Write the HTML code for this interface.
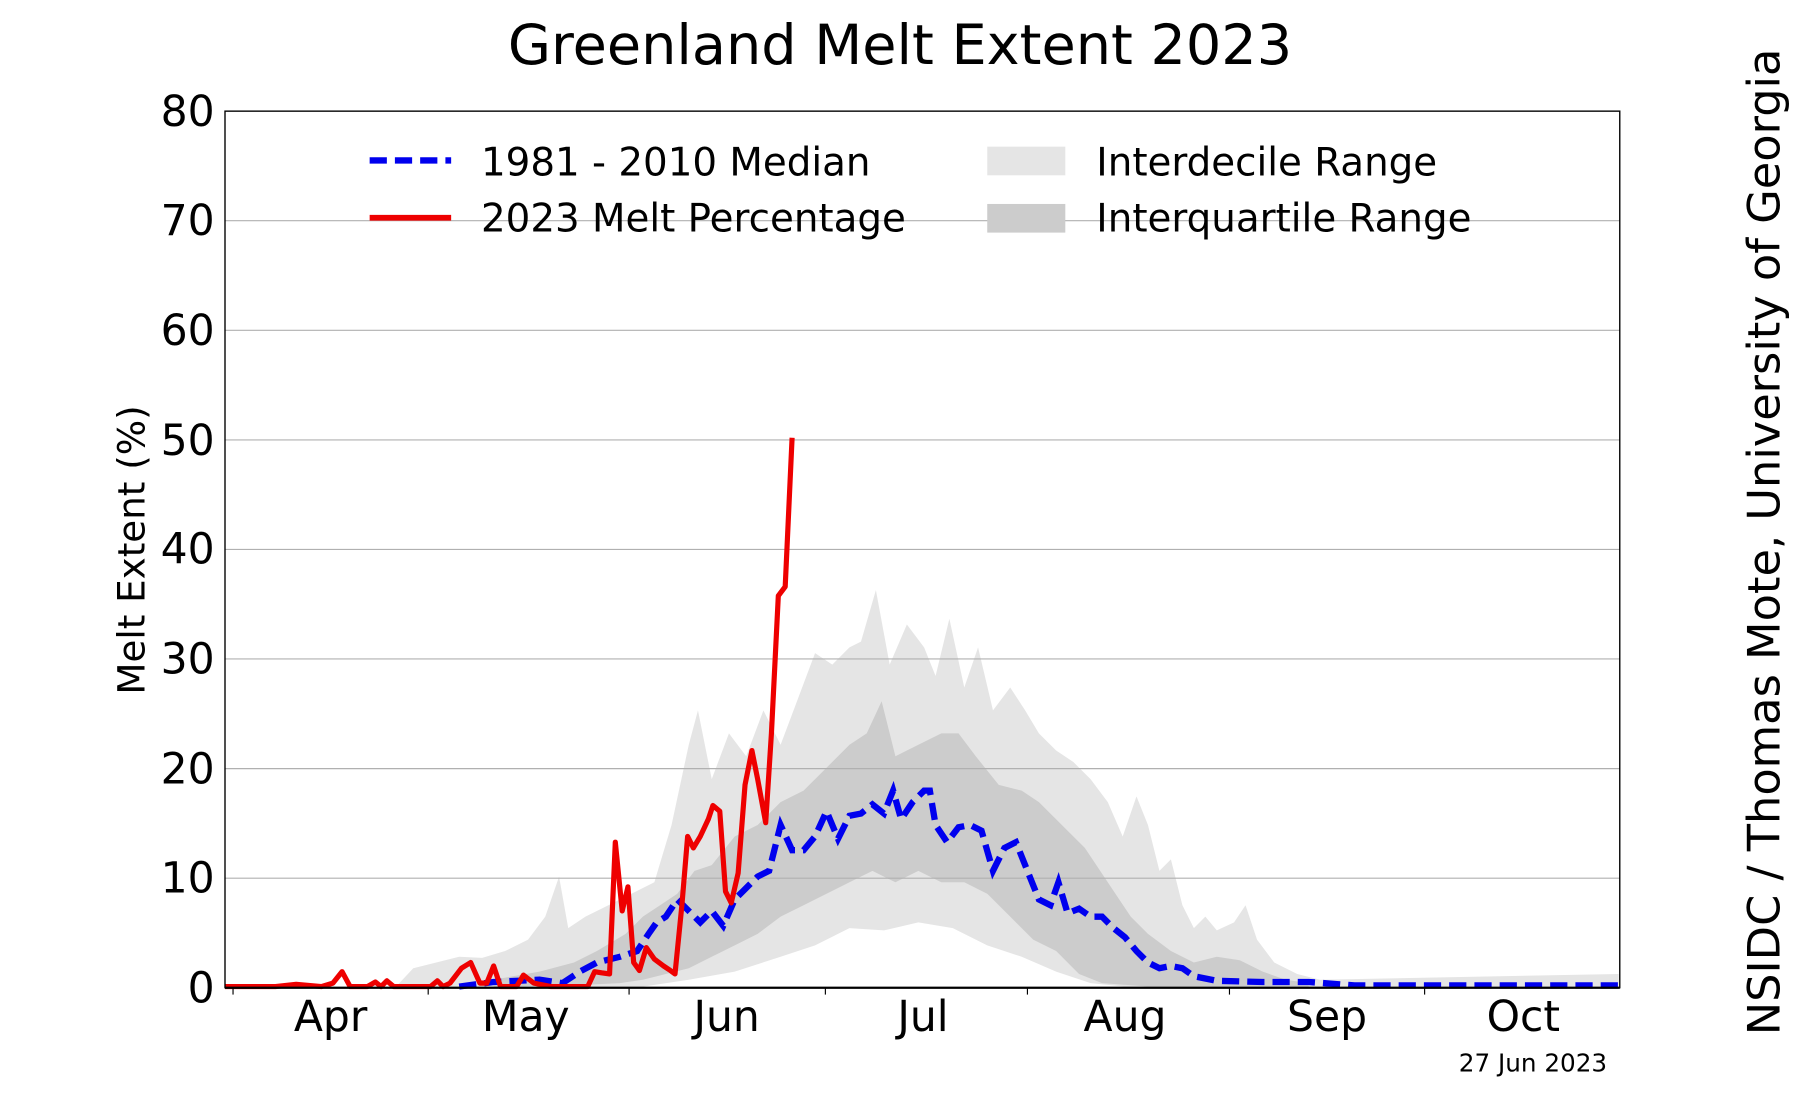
<!DOCTYPE html>
<html><head><meta charset="utf-8"><style>
html,body{margin:0;padding:0;background:#fff;}
svg{display:block;}
text{font-family:"DejaVu Sans","Liberation Sans",sans-serif;fill:#000;}
</style></head><body>
<svg width="1800" height="1100" viewBox="0 0 1568 960" preserveAspectRatio="none" xmlns="http://www.w3.org/2000/svg">
<rect width="1568" height="960" fill="#fff"/>
<text x="784" y="56" font-size="48.5" text-anchor="middle">Greenland Melt Extent 2023</text>
<polygon fill="#e5e5e5" points="345,861 360,845 380,840 400,835 420,836 440,830 460,820 475,800 487,765 495,810 510,800 530,790 550,780 570,770 585,720 600,650 608,620 620,680 635,640 650,660 665,620 680,650 695,610 710,570 725,580 740,565 750,560 763,515 775,580 790,545 805,565 815,590 827,540 840,600 852,565 865,620 880,600 893,620 905,640 920,655 935,665 950,680 965,700 978,730 990,695 1000,720 1010,760 1020,750 1030,790 1040,810 1050,800 1060,812 1075,805 1085,790 1095,820 1110,840 1130,850 1150,855 1410,850 1410,861 980,861 950,858 920,848 890,835 860,825 830,810 800,805 770,812 740,810 710,825 680,835 640,848 600,855 560,861"/>
<polygon fill="#cccccc" points="430,855 470,848 500,840 520,830 545,815 560,800 575,790 590,780 605,760 620,755 640,730 660,720 680,700 700,690 720,670 740,650 755,640 768,612 780,660 800,650 820,640 835,640 850,660 870,685 890,690 905,700 925,720 945,740 965,770 985,800 1000,815 1020,830 1040,840 1060,835 1080,838 1100,848 1120,855 1140,858 1140,861 1000,861 960,858 940,850 920,830 900,820 880,800 860,780 840,770 820,770 800,760 780,770 760,760 740,770 720,780 700,790 680,800 660,815 640,825 620,835 600,845 580,850 560,855 540,858 500,860 430,861"/>
<g stroke="#b0b0b0" stroke-width="1">
<line x1="196" x2="1411" y1="766.4" y2="766.4"/><line x1="196" x2="1411" y1="670.8" y2="670.8"/>
<line x1="196" x2="1411" y1="575.1" y2="575.1"/><line x1="196" x2="1411" y1="479.5" y2="479.5"/>
<line x1="196" x2="1411" y1="383.9" y2="383.9"/><line x1="196" x2="1411" y1="288.3" y2="288.3"/>
<line x1="196" x2="1411" y1="192.6" y2="192.6"/>
</g>
<polyline fill="none" stroke="#0000ee" stroke-width="5.5" stroke-dasharray="15,7" points="400,861 430,857 470,855 490,858 505,848 520,840 540,835 555,830 565,815 572,805 580,800 590,785 600,795 610,805 620,795 630,808 640,785 650,775 660,765 670,760 680,720 690,742 700,742 710,730 720,708 730,732 740,712 750,710 760,702 770,710 778,690 785,715 795,700 805,690 810,690 815,720 825,735 835,722 845,720 855,725 865,760 875,740 885,735 895,760 905,785 915,790 922,770 930,797 940,793 950,800 960,800 970,810 980,818 990,830 1000,840 1010,845 1020,843 1030,845 1040,852 1060,856 1100,857 1140,857 1180,860 1410,860"/>
<polyline fill="none" stroke="#ee0000" stroke-width="4.5" stroke-linejoin="round" points="196,861 240,861 258,859 280,861 290,858 298,848 305,861 320,861 327,857 332,861 337,856 343,861 375,861 381,856 386,861 392,858 402,845 410,840 418,858 424,858 430,843 436,861 450,861 456,851 465,858 480,861 512,861 518,848 524,849 531,850 536,735 542,795 547,774 552,840 557,847 563,827 570,837 578,843 584,847 588,850 594,790 599,730 604,740 610,730 617,715 621,703 627,708 632,778 637,788 643,762 649,685 655,655 660,680 667,718 672,640 678,520 684,512 690,382"/>
<rect x="196" y="97" width="1215" height="765" fill="none" stroke="#000" stroke-width="1.2"/>
<line x1="196" x2="1411" y1="862" y2="862" stroke="#000" stroke-width="2"/>
<g stroke="#000" stroke-width="1">
<line x1="203" x2="203" y1="862" y2="868"/><line x1="373" x2="373" y1="862" y2="868"/><line x1="548" x2="548" y1="862" y2="868"/><line x1="719" x2="719" y1="862" y2="868"/><line x1="895" x2="895" y1="862" y2="868"/><line x1="1071" x2="1071" y1="862" y2="868"/><line x1="1241" x2="1241" y1="862" y2="868"/>
</g>
<g font-size="37" text-anchor="end">
<text x="187" y="875">0</text><text x="187" y="779">10</text><text x="187" y="684">20</text><text x="187" y="588">30</text><text x="187" y="492">40</text><text x="187" y="397">50</text><text x="187" y="301">60</text><text x="187" y="205">70</text><text x="187" y="110">80</text>
</g>
<g font-size="37" text-anchor="middle">
<text x="288" y="900">Apr</text><text x="458" y="900">May</text><text x="633" y="900">Jun</text><text x="804" y="900">Jul</text><text x="980" y="900">Aug</text><text x="1156" y="900">Sep</text><text x="1327" y="900">Oct</text>
</g>
<text transform="translate(126,480) rotate(-90)" font-size="32.5" text-anchor="middle">Melt Extent (%)</text>
<text transform="translate(1550,473) rotate(-90)" font-size="39" text-anchor="middle">NSIDC / Thomas Mote, University of Georgia</text>
<text x="1400" y="935" font-size="21.5" text-anchor="end">27 Jun 2023</text>
<line x1="322" x2="393" y1="140" y2="140" stroke="#0000ee" stroke-width="5.5" stroke-dasharray="15,7"/>
<line x1="322" x2="393" y1="190" y2="190" stroke="#ee0000" stroke-width="5"/>
<text x="419" y="153" font-size="33.8">1981 - 2010 Median</text>
<text x="419" y="202" font-size="33.8">2023 Melt Percentage</text>
<rect x="860" y="128" width="68" height="25" fill="#e5e5e5"/>
<rect x="860" y="178" width="68" height="25" fill="#cccccc"/>
<text x="955" y="153" font-size="33.8">Interdecile Range</text>
<text x="955" y="202" font-size="33.8">Interquartile Range</text>
</svg>
</body></html>
